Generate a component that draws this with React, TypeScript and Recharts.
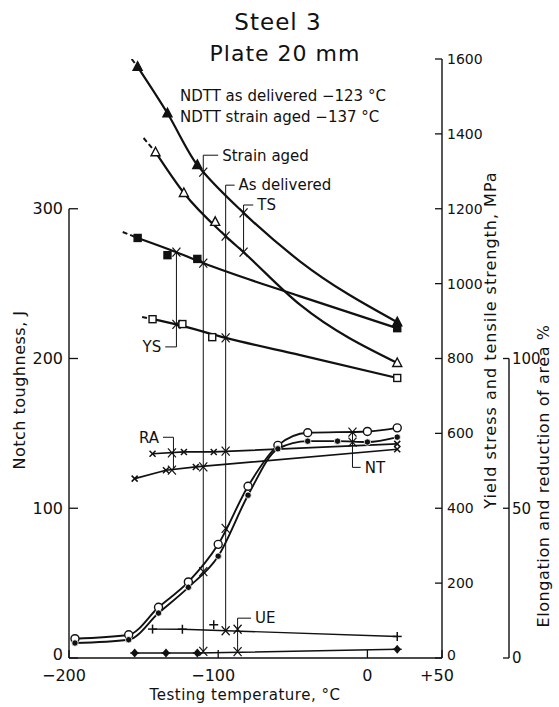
import React from "react";
import {
  ComposedChart,
  Line,
  XAxis,
  YAxis,
  ReferenceLine,
  ReferenceDot,
} from "recharts";

const W = 559;
const H = 707;
const TOP = 59;
const BOTTOM = 49;
const PLOT_H = H - TOP - BOTTOM;
const INK = "#111";
const FONT = "'DejaVu Sans', sans-serif";

// axes
const xTicks = [-200, -100, 0, 50];
const xTickLabels = ["\u2212200", "\u2212100", "0", "+50"];
const jTicks = [0, 100, 200, 300];
const mpaTicks = [0, 200, 400, 600, 800, 1000, 1200, 1400, 1600];
const pctTicks = [0, 50, 100];

// tensile strength, strain aged (filled triangles), MPa
const tsAgedMarks = [[-154, 1579], [-134, 1455], [-114, 1317], [20, 897]];
const tsAgedCurve = [[-154, 1579], [-134, 1455], [-114, 1317], [-110, 1298], [-83, 1189], [-45, 1059], [20, 897]];
const tsAgedLead = [[-158, 1600], [-154, 1579]];

// tensile strength, as delivered (open triangles), MPa
const tsDelMarks = [[-142, 1351], [-123, 1242], [-102, 1165], [20, 788]];
const tsDelCurve = [[-142, 1351], [-123, 1242], [-95, 1127], [-83, 1084], [-45, 943], [20, 788]];
const tsDelLead = [[-150, 1389], [-142, 1351]];

// yield stress, strain aged (filled squares), MPa
const ysAgedMarks = [[-154, 1122], [-134, 1076], [-114, 1066], [20, 881]];
const ysAgedCurve = [[-154, 1122], [-128, 1084], [-110, 1055], [-45, 966], [20, 881]];
const ysAgedLead = [[-164, 1138], [-154, 1122]];

// yield stress, as delivered (open squares), MPa
const ysDelMarks = [[-144, 905], [-124, 892], [-104, 857], [20, 748]];
const ysDelCurve = [[-144, 905], [-128, 891], [-95, 855], [-45, 809], [20, 748]];
const ysDelLead = [[-151, 911], [-144, 905]];

// notch toughness, J
const ntDel = [[-196, 12.9], [-160, 15.5], [-140, 33.9], [-120, 50.8], [-100, 75.9], [-80, 114.7], [-60, 142], [-40, 150.4], [0, 151.3], [20, 153.7]];
const ntAged = [[-196, 10], [-160, 12.2], [-140, 30], [-120, 47.2], [-100, 68], [-80, 108.7], [-60, 139.7], [-40, 144.8], [-20, 144.8], [0, 144.2], [20, 147.5]];

// reduction of area, %
const raDel = [[-144, 68.2], [-123, 68.8], [-103, 68.8], [20, 71.5]];
const raAged = [[-156, 59.9], [-135, 62.7], [-115, 63.8], [20, 69.7]];

// uniform elongation, %
const ueDel = [[-144, 9.65], [-124, 9.6], [20, 7.2]];
const ueDelExtra = [[-103, 11.1]];
const ueAged = [[-156, 1.66], [-135, 1.66], [-114, 1.66], [20, 2.9]];

// crossing marks
const mpaCrosses = [[-110, 1298], [-110, 1055], [-95, 1127], [-95, 855], [-83, 1189], [-83, 1084], [-128, 1084], [-128, 891]];
const jCrosses = [[-110, 57.7], [-95, 86.5], [-10, 150.8], [-10, 144.2]];
const pctCrosses = [[-131, 68.5], [-131, 62.7], [-95, 69.1], [-110, 63.8], [-110, 2.2], [-95, 9.1], [-87, 9.6], [-87, 2.1]];

// guide lines and brackets: vertical at t from y1 to y2, tick to tx at y1
const brackets = [
  { axis: "mpa", t: -110, y1: 1343, y2: 16, tx: -100, text: "Strain aged", side: "right" },
  { axis: "mpa", t: -95, y1: 1263, y2: 73, tx: -89, text: "As delivered", side: "right" },
  { axis: "mpa", t: -83, y1: 1210, y2: 1084, tx: -76.5, text: "TS", side: "right" },
  { axis: "mpa", t: -128, y1: 831, y2: 1084, tx: -135.5, text: "YS", side: "left" },
  { axis: "pct", t: -130, y1: 73.7, y2: 62.7, tx: -137, text: "RA", side: "left" },
  { axis: "j", t: -10, y1: 127.3, y2: 150.7, tx: -4.5, text: "NT", side: "right" },
  { axis: "pct", t: -87, y1: 13.3, y2: 2, tx: -78, text: "UE", side: "right" },
];

const pts = (a: number[][]) => a.map(([t, v]) => ({ t, v }));

function Mark({ kind, cx, cy }: { kind: string; cx?: number; cy?: number }) {
  if (cx == null || cy == null || isNaN(cx) || isNaN(cy)) return null;
  const sw = 1.4;
  switch (kind) {
    case "triF":
    case "triO": {
      const p = `${cx},${cy - 5} ${cx + 4.5},${cy + 3.5} ${cx - 4.5},${cy + 3.5}`;
      return <polygon points={p} fill={kind === "triF" ? INK : "#fff"} stroke={INK} strokeWidth={sw} />;
    }
    case "sqF":
    case "sqO":
      return <rect x={cx - 3.5} y={cy - 3.5} width={7} height={7} fill={kind === "sqF" ? INK : "#fff"} stroke={INK} strokeWidth={sw} />;
    case "cirO":
      return <circle cx={cx} cy={cy} r={4} fill="#fff" stroke={INK} strokeWidth={sw} />;
    case "cirF":
      return <circle cx={cx} cy={cy} r={3.2} fill={INK} stroke="#fff" strokeWidth={0.8} />;
    case "x":
      return (
        <g stroke={INK} strokeWidth={1.5}>
          <line x1={cx - 3} y1={cy - 3} x2={cx + 3} y2={cy + 3} />
          <line x1={cx - 3} y1={cy + 3} x2={cx + 3} y2={cy - 3} />
        </g>
      );
    case "plus":
      return (
        <g stroke={INK} strokeWidth={1.5}>
          <line x1={cx - 4.5} y1={cy} x2={cx + 4.5} y2={cy} />
          <line x1={cx} y1={cy - 4.5} x2={cx} y2={cy + 4.5} />
        </g>
      );
    case "dia":
      return (
        <g stroke={INK} strokeWidth={1.3}>
          <line x1={cx - 4.5} y1={cy} x2={cx + 4.5} y2={cy} />
          <polygon points={`${cx},${cy - 3.5} ${cx + 3},${cy} ${cx},${cy + 3.5} ${cx - 3},${cy}`} fill={INK} />
        </g>
      );
    default:
      return (
        <g stroke={INK} strokeWidth={1.2}>
          <line x1={cx - 4} y1={cy - 4.5} x2={cx + 4} y2={cy + 4.5} />
          <line x1={cx - 4} y1={cy + 4.5} x2={cx + 4} y2={cy - 4.5} />
        </g>
      );
  }
}

const dotOf = (kind: string) => (p: any) => <Mark key={`${kind}-${p.index}`} kind={kind} cx={p.cx} cy={p.cy} />;

const LeftTick = (p: any) => (
  <g>
    <line x1={p.x} x2={p.x + 9} y1={p.y} y2={p.y} stroke={INK} strokeWidth={1.3} />
    <text x={p.x - 6} y={p.y - (p.payload.value === 0 ? 4 : 0)} dy="0.35em" textAnchor="end" fontSize={16} fontFamily={FONT} fill={INK}>
      {p.payload.value}
    </text>
  </g>
);

const MpaTick = (p: any) => (
  <g>
    <line x1={p.x - 7} x2={p.x} y1={p.y} y2={p.y} stroke={INK} strokeWidth={1.3} />
    <text x={p.x + 5} y={p.y - (p.payload.value === 0 ? 3 : 0)} dy="0.35em" textAnchor="start" fontSize={14} fontFamily={FONT} fill={INK}>
      {p.payload.value}
    </text>
  </g>
);

const PctTick = (p: any) => (
  <g>
    <line x1={p.x - 6} x2={p.x} y1={p.y} y2={p.y} stroke={INK} strokeWidth={1.3} />
    <text x={p.x + 3} y={p.y} dy="0.35em" textAnchor="start" fontSize={15} fontFamily={FONT} fill={INK}>
      {p.payload.value}
    </text>
  </g>
);

const XTick = (p: any) => {
  const i = xTicks.indexOf(p.payload.value);
  const label = xTickLabels[i] ?? String(p.payload.value);
  const shift = p.payload.value === 0 ? 0 : -5;
  return (
    <g>
      <line x1={p.x} x2={p.x} y1={p.y} y2={p.y - 8} stroke={INK} strokeWidth={1.3} />
      <text x={p.x + shift} y={p.y + 17} dy="0.35em" textAnchor="middle" fontSize={16} fontFamily={FONT} fill={INK}>
        {label}
      </text>
    </g>
  );
};

const curve = (id: string, data: number[][], axis: string, width: number, type: any = "monotone", dash?: string) => (
  <Line
    key={id}
    data={pts(data)}
    yAxisId={axis}
    dataKey="v"
    type={type}
    stroke={INK}
    strokeWidth={width}
    strokeDasharray={dash}
    dot={false}
    activeDot={false}
    isAnimationActive={false}
  />
);

const marks = (id: string, data: number[][], axis: string, kind: string) => (
  <Line
    key={id}
    data={pts(data)}
    yAxisId={axis}
    dataKey="v"
    stroke="none"
    dot={dotOf(kind)}
    activeDot={false}
    isAnimationActive={false}
  />
);

const pctFrac = pctTicks[pctTicks.length - 1] / 200;

export default function App() {
  const labelStyle = { fontSize: 15, fontFamily: FONT, fill: INK };
  return (
    <div style={{ position: "absolute", left: 0, top: 0, width: W, height: H, background: "#fff" }}>
      <ComposedChart width={W} height={H} margin={{ top: TOP, right: 0, bottom: 0, left: 0 }}>
        <XAxis
          dataKey="t"
          type="number"
          domain={[-200, 50]}
          ticks={xTicks}
          interval={0}
          allowDataOverflow
          height={BOTTOM}
          tickSize={0}
          tickMargin={0}
          tickLine={false}
          tick={<XTick />}
          axisLine={{ stroke: INK, strokeWidth: 1.4 }}
        />
        <YAxis
          yAxisId="j"
          orientation="left"
          type="number"
          domain={[0, 400]}
          ticks={jTicks}
          interval={0}
          allowDataOverflow
          width={69}
          tickSize={0}
          tickMargin={0}
          tickLine={false}
          tick={<LeftTick />}
          axisLine={false}
        />
        <YAxis
          yAxisId="mpa"
          orientation="right"
          type="number"
          domain={[0, 1600]}
          ticks={mpaTicks}
          interval={0}
          allowDataOverflow
          width={67}
          tickSize={0}
          tickMargin={0}
          tickLine={false}
          tick={<MpaTick />}
          axisLine={{ stroke: INK, strokeWidth: 1.4 }}
        />
        <YAxis
          yAxisId="pct"
          orientation="right"
          type="number"
          domain={[0, 200]}
          ticks={pctTicks}
          interval={0}
          allowDataOverflow
          width={50}
          tickSize={0}
          tickMargin={0}
          tickLine={false}
          tick={<PctTick />}
          axisLine={{
            stroke: INK,
            strokeWidth: 1.4,
            strokeDasharray: `0 ${PLOT_H * (1 - pctFrac)} ${PLOT_H * pctFrac} 0`,
          }}
        />

        <ReferenceLine
          yAxisId="j"
          segment={[{ x: -200, y: 0 }, { x: -200, y: jTicks[jTicks.length - 1] }]}
          stroke={INK}
          strokeWidth={1.4}
        />

        {brackets.map((b, i) => (
          <ReferenceLine
            key={`bv${i}`}
            yAxisId={b.axis}
            segment={[{ x: b.t, y: b.y1 }, { x: b.t, y: b.y2 }]}
            stroke={INK}
            strokeWidth={1}
          />
        ))}
        {brackets.map((b, i) => (
          <ReferenceLine
            key={`bh${i}`}
            yAxisId={b.axis}
            segment={[{ x: b.t, y: b.y1 }, { x: b.tx, y: b.y1 }]}
            stroke={INK}
            strokeWidth={1}
          />
        ))}

        {curve("tsAL", tsAgedLead, "mpa", 2, "linear", "5 3")}
        {curve("tsDL", tsDelLead, "mpa", 2, "linear", "5 3")}
        {curve("ysAL", ysAgedLead, "mpa", 2, "linear", "5 3")}
        {curve("ysDL", ysDelLead, "mpa", 2, "linear", "5 3")}
        {curve("tsA", tsAgedCurve, "mpa", 2.2)}
        {curve("tsD", tsDelCurve, "mpa", 2.2)}
        {curve("ysA", ysAgedCurve, "mpa", 2.2)}
        {curve("ysD", ysDelCurve, "mpa", 2.2)}
        {curve("ntD", ntDel, "j", 1.9)}
        {curve("ntA", ntAged, "j", 1.9)}
        {curve("raD", raDel, "pct", 1.7, "linear")}
        {curve("raA", raAged, "pct", 1.7, "linear")}
        {curve("ueD", ueDel, "pct", 1.4, "linear")}
        {curve("ueA", ueAged, "pct", 1.6, "linear")}

        {marks("mTsA", tsAgedMarks, "mpa", "triF")}
        {marks("mTsD", tsDelMarks, "mpa", "triO")}
        {marks("mYsA", ysAgedMarks, "mpa", "sqF")}
        {marks("mYsD", ysDelMarks, "mpa", "sqO")}
        {marks("mNtD", ntDel, "j", "cirO")}
        {marks("mNtA", ntAged, "j", "cirF")}
        {marks("mRaD", raDel, "pct", "x")}
        {marks("mRaA", raAged, "pct", "x")}
        {marks("mUeD", ueDel, "pct", "plus")}
        {marks("mUeX", ueDelExtra, "pct", "plus")}
        {marks("mUeA", ueAged, "pct", "dia")}
        {marks("cMpa", mpaCrosses, "mpa", "cross")}
        {marks("cJ", jCrosses, "j", "cross")}
        {marks("cPct", pctCrosses, "pct", "cross")}

        {brackets.map((b, i) => (
          <ReferenceDot
            key={`bl${i}`}
            yAxisId={b.axis}
            x={b.tx}
            y={b.y1}
            r={0}
            fill="none"
            stroke="none"
            label={{ value: b.text, position: b.side as any, offset: 4, ...labelStyle }}
          />
        ))}
      </ComposedChart>

      <svg width={W} height={H} style={{ position: "absolute", left: 0, top: 0, pointerEvents: "none" }}>
        <g fontFamily={FONT} fill={INK}>
          <text x={278} y={30} fontSize={23} textAnchor="middle" letterSpacing={1}>Steel 3</text>
          <text x={285} y={61} fontSize={22} textAnchor="middle" letterSpacing={1}>Plate 20 mm</text>
          <text x={180} y={101} fontSize={15}>NDTT as delivered  −123 °C</text>
          <text x={180} y={122} fontSize={15}>NDTT strain aged  −137 °C</text>
          <text x={245} y={700} fontSize={15} textAnchor="middle" letterSpacing={0.5}>Testing temperature, °C</text>
          <text transform="translate(25,390) rotate(-90)" fontSize={16} textAnchor="middle" letterSpacing={0.5}>
            Notch toughness, J
          </text>
          <text transform="translate(496,340) rotate(-90)" fontSize={16} textAnchor="middle" letterSpacing={1}>
            Yield stress and tensile strength, MPa
          </text>
          <text transform="translate(549,476) rotate(-90)" fontSize={16} textAnchor="middle" letterSpacing={0.6}>
            Elongation and reduction of area %
          </text>
        </g>
      </svg>
    </div>
  );
}
